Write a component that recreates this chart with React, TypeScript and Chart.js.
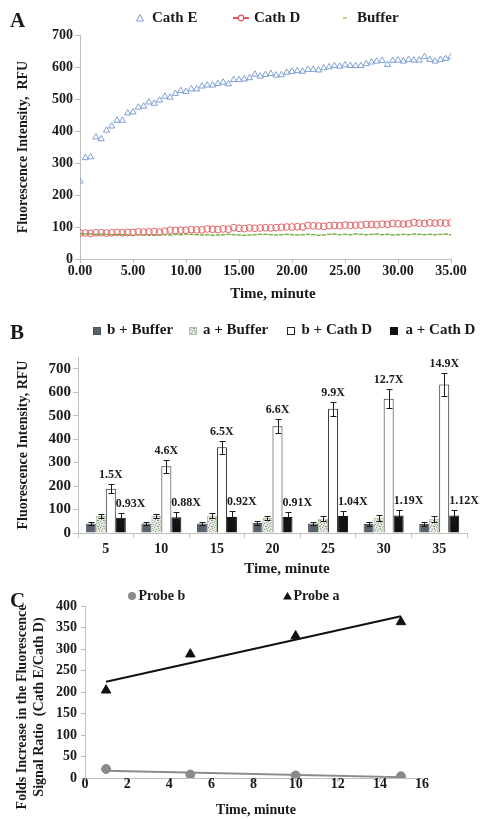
import React, { useEffect, useRef } from 'react';
import { Chart, registerables } from 'chart.js';
Chart.register(...registerables);

const FONT = "'Liberation Serif', 'Times New Roman', serif";
const INK = '#1a1a1a';
const AXIS = '#bfbfbf';

// ---------- Panel A ----------
const timeA = [0, 0.5, 1, 1.5, 2, 2.5, 3, 3.5, 4, 4.5, 5, 5.5, 6, 6.5, 7, 7.5, 8, 8.5, 9, 9.5, 10, 10.5, 11, 11.5, 12, 12.5, 13, 13.5, 14, 14.5, 15, 15.5, 16, 16.5, 17, 17.5, 18, 18.5, 19, 19.5, 20, 20.5, 21, 21.5, 22, 22.5, 23, 23.5, 24, 24.5, 25, 25.5, 26, 26.5, 27, 27.5, 28, 28.5, 29, 29.5, 30, 30.5, 31, 31.5, 32, 32.5, 33, 33.5, 34, 34.5, 35];
const cathE = [
  243, 316, 319, 381, 375, 402, 415, 433, 433, 456,
  459, 474, 477, 490, 486, 496, 508, 505, 517, 526,
  523, 531, 531, 540, 543, 543, 548, 552, 547, 560,
  560, 562, 566, 577, 571, 576, 579, 574, 575, 583,
  586, 588, 586, 592, 592, 590, 597, 600, 604, 602,
  606, 604, 604, 604, 610, 615, 618, 620, 607, 620,
  621, 618, 623, 621, 621, 632, 623, 618, 623, 626,
  632];
const cathD = [
  81, 81, 80, 82, 82, 81, 82, 83, 82, 83,
  83, 85, 84, 85, 86, 84, 87, 90, 89, 90,
  90, 92, 91, 91, 94, 93, 92, 94, 93, 98,
  96, 95, 97, 96, 97, 98, 97, 98, 99, 100,
  100, 101, 100, 105, 104, 103, 102, 104, 105, 104,
  106, 105, 106, 106, 108, 108, 107, 109, 108, 111,
  110, 109, 110, 114, 112, 111, 113, 112, 113, 112,
  113];
const bufferA = [
  79, 78, 78, 77, 78, 77, 76, 77, 76, 75,
  74, 76, 75, 75, 74, 75, 76, 75, 77, 76,
  78, 77, 76, 75, 76, 74, 75, 76, 77, 76,
  75, 74, 75, 76, 77, 77, 76, 75, 76, 77,
  76, 75, 76, 77, 76, 74, 75, 77, 78, 76,
  77, 76, 78, 77, 76, 77, 78, 76, 77, 75,
  76, 77, 76, 78, 77, 76, 77, 76, 77, 78,
  76];
const seriesA = ['Cath E', 'Cath D', 'Buffer'];
const xTitle = 'Time, minute';

// ---------- Panel B ----------
const catsB = ['5', '10', '15', '20', '25', '30', '35'];
const yTicksB = [0, 100, 200, 300, 400, 500, 600, 700];
const seriesB = ['b + Buffer', 'a + Buffer', 'b + Cath D', 'a + Cath D'];
const bBuffer = [40, 41, 40, 43, 40, 38, 38];
const bBufferErr = [6, 7, 6, 8, 7, 7, 8];
const aBuffer = [72, 72, 74, 64, 61, 65, 61];
const aBufferErr = [9, 10, 11, 10, 10, 12, 12];
const bCathD = [189, 284, 365, 455, 529, 572, 633];
const bCathDErr = [20, 28, 27, 29, 31, 41, 48];
const aCathD = [65, 67, 68, 68, 72, 75, 75];
const aCathDErr = [22, 22, 24, 20, 22, 22, 22];
const foldsB = ['1.5X', '4.6X', '6.5X', '6.6X', '9.9X', '12.7X', '14.9X'];
const foldsA = ['0.93X', '0.88X', '0.92X', '0.91X', '1.04X', '1.19X', '1.12X'];

// ---------- Panel C ----------
const seriesC = ['Probe b', 'Probe a'];
const timeC = [1, 5, 10, 15];
const probeB = [21, 8, 6, 4];
const probeA = [204, 288, 330, 363];
const trendX = [1, 15];
const trendA = [224, 376];
const trendB = [17, 2];
const titleC = ['Folds Increase in the Fluorescence', 'Signal Ratio  (Cath E/Cath D)'];

const boldFont = (size: number) => ({ family: FONT, size, weight: 'bold' as const });

type LegendItem = { ds: number; kind: 'icon' | 'box' | 'circle' | 'triangle'; cx: number; tx: number; icon?: HTMLCanvasElement; size?: number };

// Legend drawn from the datasets (labels and colours) at fixed spots.
function makeLegend(items: LegendItem[], fs: number, y: number) {
  return {
    id: 'fixedLegend',
    afterDraw(chart: any) {
      const ctx = chart.ctx as CanvasRenderingContext2D;
      ctx.save();
      items.forEach((it) => {
        const ds = chart.data.datasets[it.ds];
        if (it.kind === 'icon' && it.icon) {
          ctx.drawImage(it.icon, Math.round(it.cx - it.icon.width / 2), Math.round(y - it.icon.height / 2));
        } else if (it.kind === 'box') {
          const s = it.size || 7;
          const x0 = Math.round(it.cx - s / 2) + 0.5;
          const y0 = Math.round(y - s / 2) + 0.5;
          ctx.fillStyle = ds.backgroundColor;
          ctx.fillRect(x0, y0, s, s);
          ctx.strokeStyle = ds.borderColor;
          ctx.lineWidth = 1;
          ctx.strokeRect(x0, y0, s, s);
        } else if (it.kind === 'circle') {
          const r = (it.size || 8) / 2;
          ctx.fillStyle = ds.backgroundColor;
          ctx.beginPath(); ctx.arc(it.cx, y, r, 0, Math.PI * 2); ctx.fill();
        } else if (it.kind === 'triangle') {
          const s = it.size || 9;
          ctx.fillStyle = ds.backgroundColor;
          ctx.beginPath();
          ctx.moveTo(it.cx, y - s * 0.45);
          ctx.lineTo(it.cx + s / 2, y + s * 0.4);
          ctx.lineTo(it.cx - s / 2, y + s * 0.4);
          ctx.closePath(); ctx.fill();
        }
        ctx.font = `bold ${fs}px ${FONT}`;
        ctx.fillStyle = INK;
        ctx.textAlign = 'left';
        ctx.textBaseline = 'middle';
        ctx.fillText(ds.label, it.tx, y);
      });
      ctx.restore();
    },
  };
}

// Axis titles drawn at fixed spots (rotation in radians).
type TitleSpec = { text: string; x: number; y: number; rot: number; fs: number };
function makeTitles(specs: TitleSpec[]) {
  return {
    id: 'fixedTitles',
    afterDraw(chart: any) {
      const ctx = chart.ctx as CanvasRenderingContext2D;
      ctx.save();
      ctx.fillStyle = INK;
      ctx.textAlign = 'center';
      ctx.textBaseline = 'middle';
      specs.forEach((s) => {
        ctx.save();
        ctx.font = `bold ${s.fs}px ${FONT}`;
        ctx.translate(s.x, s.y);
        ctx.rotate(s.rot);
        ctx.fillText(s.text, 0, 0);
        ctx.restore();
      });
      ctx.restore();
    },
  };
}

const barExtras = {
  id: 'barExtras',
  afterDatasetsDraw(chart: any) {
    const { ctx } = chart;
    const ys = chart.scales.y;
    chart.data.datasets.forEach((ds: any, i: number) => {
      const meta = chart.getDatasetMeta(i);
      meta.data.forEach((bar: any, j: number) => {
        const v = ds.data[j];
        const e = ds.errors[j];
        const top = Math.round(ys.getPixelForValue(v + e)) + 0.5;
        const bot = Math.round(ys.getPixelForValue(v - e)) + 0.5;
        const x = Math.round(bar.x) + 0.5;
        ctx.save();
        ctx.strokeStyle = INK;
        ctx.lineWidth = 1;
        ctx.beginPath();
        ctx.moveTo(x, top); ctx.lineTo(x, bot);
        ctx.moveTo(x - 3, top); ctx.lineTo(x + 3, top);
        ctx.moveTo(x - 3, bot); ctx.lineTo(x + 3, bot);
        ctx.stroke();
        if (ds.folds) {
          ctx.font = `bold 12px ${FONT}`;
          ctx.fillStyle = INK;
          ctx.textBaseline = 'bottom';
          if (ds.foldAlign === 'left') {
            ctx.textAlign = 'left';
            ctx.fillText(ds.folds[j], bar.x - bar.width / 2, top - 4);
          } else {
            ctx.textAlign = 'center';
            ctx.fillText(ds.folds[j], bar.x, top - 4);
          }
        }
        ctx.restore();
      });
    });
  },
};

function makeIcon(w: number, h: number, draw: (g: CanvasRenderingContext2D) => void) {
  const c = document.createElement('canvas');
  c.width = w; c.height = h;
  const g = c.getContext('2d')!;
  draw(g);
  return c;
}

const UP = -Math.PI / 2;

export default function App() {
  const refA = useRef<HTMLCanvasElement>(null);
  const refB = useRef<HTMLCanvasElement>(null);
  const refC = useRef<HTMLCanvasElement>(null);

  useEffect(() => {
    Chart.defaults.font.family = FONT;
    Chart.defaults.color = INK;

    // ---------- Panel A ----------
    const iconE = makeIcon(10, 10, (g) => {
      g.strokeStyle = '#7f9fd4'; g.lineWidth = 1;
      g.beginPath(); g.moveTo(5, 1.5); g.lineTo(8.5, 8); g.lineTo(1.5, 8); g.closePath(); g.stroke();
    });
    const iconD = makeIcon(16, 8, (g) => {
      g.strokeStyle = '#e05555'; g.lineWidth = 2;
      g.beginPath(); g.moveTo(0, 4); g.lineTo(16, 4); g.stroke();
      g.fillStyle = '#fff'; g.lineWidth = 1.2;
      g.beginPath(); g.arc(8, 4, 2.8, 0, Math.PI * 2); g.fill(); g.stroke();
    });
    const iconBuf = makeIcon(6, 4, (g) => {
      g.strokeStyle = '#d2ad6a'; g.lineWidth = 1.5;
      g.beginPath(); g.moveTo(1, 2); g.lineTo(5, 2); g.stroke();
    });

    const legendA = makeLegend([
      { ds: 0, kind: 'icon', icon: iconE, cx: 140, tx: 152 },
      { ds: 1, kind: 'icon', icon: iconD, cx: 240.5, tx: 254 },
      { ds: 2, kind: 'icon', icon: iconBuf, cx: 345, tx: 357 },
    ], 15, 18);
    const titlesA = makeTitles([{ text: xTitle, x: 273, y: 294, rot: 0, fs: 15 }]);

    const chartA = new Chart(refA.current!, {
      type: 'scatter',
      data: {
        datasets: [
          { label: seriesA[0], data: timeA.map((x, i) => ({ x, y: cathE[i] })), pointStyle: 'triangle', pointRadius: 3.6, borderWidth: 1, borderColor: '#7f9fd4', backgroundColor: 'rgba(255,255,255,0)' },
          { label: seriesA[1], data: timeA.map((x, i) => ({ x, y: cathD[i] })), pointStyle: 'circle', pointRadius: 3.4, borderWidth: 1, borderColor: '#e06464', backgroundColor: 'rgba(255,255,255,0)' },
          { label: seriesA[2], data: timeA.map((x, i) => ({ x, y: bufferA[i] })), pointStyle: 'line', pointRadius: 2.2, borderWidth: 1.5, borderColor: '#78b446', backgroundColor: '#78b446' },
        ],
      },
      options: {
        responsive: false,
        animation: false,
        devicePixelRatio: 1,
        events: [],
        layout: { padding: { left: 0, right: 36, top: 35, bottom: 0 } },
        plugins: { tooltip: { enabled: false }, legend: { display: false } },
        scales: {
          x: {
            type: 'linear', min: 0, max: 35,
            ticks: { stepSize: 5, autoSkip: false, maxRotation: 0, padding: 0, font: boldFont(14), color: INK, callback: (v: any) => Number(v).toFixed(2) },
            grid: { drawOnChartArea: false, drawTicks: true, tickLength: 4, color: AXIS },
            border: { color: AXIS },
            title: { display: false },
            afterFit: (s: any) => { s.height = 48; },
          },
          y: {
            min: 0, max: 700,
            ticks: { stepSize: 100, autoSkip: false, padding: 2, font: boldFont(14), color: INK },
            grid: { drawOnChartArea: false, drawTicks: true, tickLength: 5, color: AXIS },
            border: { color: AXIS },
            title: { display: true, text: 'Fluorescence Intensity,  RFU', font: boldFont(14), color: INK, padding: { top: 15, bottom: 0 } },
            afterFit: (s: any) => { s.width = 80; },
          },
        },
      } as any,
      plugins: [legendA, titlesA],
    });

    // ---------- Panel B ----------
    const ctxB = refB.current!.getContext('2d')!;
    const speck = makeIcon(6, 6, (g) => {
      g.fillStyle = '#dfe3dc'; g.fillRect(0, 0, 6, 6);
      g.fillStyle = '#8d978b';
      g.fillRect(0, 0, 1, 1); g.fillRect(3, 1, 1, 1); g.fillRect(1, 3, 2, 1); g.fillRect(4, 4, 1, 1); g.fillRect(5, 2, 1, 1); g.fillRect(2, 5, 1, 1);
      g.fillStyle = '#ffffff';
      g.fillRect(1, 1, 1, 1); g.fillRect(4, 2, 1, 1); g.fillRect(0, 4, 1, 1); g.fillRect(3, 4, 1, 1);
    });
    const pattern = ctxB.createPattern(speck, 'repeat');

    const legendB = makeLegend([
      { ds: 0, kind: 'box', cx: 96.5, tx: 107 },
      { ds: 1, kind: 'box', cx: 192.5, tx: 203 },
      { ds: 2, kind: 'box', cx: 290.5, tx: 301.5 },
      { ds: 3, kind: 'box', cx: 393.5, tx: 405.5 },
    ], 15, 23);
    const titlesB = makeTitles([{ text: xTitle, x: 287, y: 262, rot: 0, fs: 15 }]);

    const barCommon = { barPercentage: 1, categoryPercentage: 0.72, borderWidth: 1 };
    const chartB = new Chart(refB.current!, {
      type: 'bar',
      data: {
        labels: catsB,
        datasets: [
          { ...barCommon, label: seriesB[0], data: bBuffer, errors: bBufferErr, backgroundColor: '#59616b', borderColor: '#4b525a' },
          { ...barCommon, label: seriesB[1], data: aBuffer, errors: aBufferErr, backgroundColor: pattern, borderColor: '#a7c598' },
          { ...barCommon, label: seriesB[2], data: bCathD, errors: bCathDErr, folds: foldsB, foldAlign: 'center', backgroundColor: '#ffffff', borderColor: '#222222' },
          { ...barCommon, label: seriesB[3], data: aCathD, errors: aCathDErr, folds: foldsA, foldAlign: 'left', backgroundColor: '#111111', borderColor: '#111111' },
        ] as any,
      },
      options: {
        responsive: false,
        animation: false,
        devicePixelRatio: 1,
        events: [],
        layout: { padding: { left: 0, right: 20, top: 50, bottom: 0 } },
        plugins: { tooltip: { enabled: false }, legend: { display: false } },
        scales: {
          x: {
            ticks: { autoSkip: false, maxRotation: 0, padding: 3, font: boldFont(14), color: INK },
            grid: { offset: true, drawOnChartArea: false, drawTicks: true, tickLength: 5, color: AXIS },
            border: { color: AXIS },
            title: { display: false },
            afterFit: (s: any) => { s.height = 47; },
          },
          y: {
            min: 0, max: 750,
            ticks: { autoSkip: false, padding: 2, font: boldFont(15), color: INK },
            afterBuildTicks: (s: any) => { s.ticks = yTicksB.map((value) => ({ value })); },
            grid: { drawOnChartArea: false, drawTicks: true, tickLength: 5, color: AXIS },
            border: { color: AXIS },
            title: { display: true, text: 'Fluorescence Intensity, RFU', font: boldFont(14), color: INK, padding: { top: 15, bottom: 0 } },
            afterFit: (s: any) => { s.width = 78; },
          },
        },
      } as any,
      plugins: [legendB, barExtras, titlesB],
    });

    // ---------- Panel C ----------
    const legendC = makeLegend([
      { ds: 0, kind: 'circle', cx: 132, tx: 138.5, size: 8 },
      { ds: 1, kind: 'triangle', cx: 287.5, tx: 293.5, size: 9 },
    ], 14, 16);
    const titlesC = makeTitles([
      { text: titleC[0], x: 22, y: 127, rot: UP, fs: 14 },
      { text: titleC[1], x: 39.5, y: 127, rot: UP, fs: 14 },
      { text: xTitle, x: 256, y: 230, rot: 0, fs: 14 },
    ]);

    const chartC = new Chart(refC.current!, {
      type: 'scatter',
      data: {
        datasets: [
          { label: seriesC[0], data: timeC.map((x, i) => ({ x, y: probeB[i] })), pointStyle: 'circle', pointRadius: 4.5, borderWidth: 1, borderColor: '#8a8a8a', backgroundColor: '#8a8a8a' },
          { label: seriesC[1], data: timeC.map((x, i) => ({ x, y: probeA[i] })), pointStyle: 'triangle', pointRadius: 5.5, borderWidth: 1, borderColor: '#111111', backgroundColor: '#111111' },
          { label: 'trend b', data: trendX.map((x, i) => ({ x, y: trendB[i] })), showLine: true, pointRadius: 0, borderWidth: 2, borderColor: '#8a8a8a' },
          { label: 'trend a', data: trendX.map((x, i) => ({ x, y: trendA[i] })), showLine: true, pointRadius: 0, borderWidth: 2, borderColor: '#111111' },
        ],
      },
      options: {
        responsive: false,
        animation: false,
        devicePixelRatio: 1,
        events: [],
        layout: { padding: { left: 0, right: 65, top: 26, bottom: 0 } },
        plugins: { tooltip: { enabled: false }, legend: { display: false } },
        scales: {
          x: {
            type: 'linear', min: 0, max: 16,
            ticks: { stepSize: 2, autoSkip: false, maxRotation: 0, padding: -6, font: boldFont(14), color: INK },
            grid: { drawOnChartArea: false, drawTicks: true, tickLength: 4, color: AXIS },
            border: { color: AXIS },
            title: { display: false },
            afterFit: (s: any) => { s.height = 41; },
          },
          y: {
            min: 0, max: 400,
            ticks: { stepSize: 50, autoSkip: false, padding: 4, font: boldFont(14), color: INK },
            grid: { drawOnChartArea: false, drawTicks: true, tickLength: 4, color: AXIS },
            border: { color: AXIS },
            title: { display: false },
            afterFit: (s: any) => { s.width = 85; },
          },
        },
      } as any,
      plugins: [legendC, titlesC],
    });

    return () => {
      chartA.destroy();
      chartB.destroy();
      chartC.destroy();
    };
  }, []);

  const panelLabel = (text: string, top: number) => (
    <div style={{ position: 'absolute', left: 10, top, font: `bold 21px ${FONT}`, lineHeight: '21px', color: INK }}>{text}</div>
  );

  return (
    <div style={{ position: 'absolute', left: 0, top: 0, width: 487, height: 819, background: '#ffffff', overflow: 'hidden' }}>
      <canvas ref={refA} width={487} height={307} style={{ position: 'absolute', left: 0, top: 0 }} />
      <canvas ref={refB} width={487} height={273} style={{ position: 'absolute', left: 0, top: 307 }} />
      <canvas ref={refC} width={487} height={239} style={{ position: 'absolute', left: 0, top: 580 }} />
      {panelLabel('A', 10)}
      {panelLabel('B', 322)}
      {panelLabel('C', 590)}
    </div>
  );
}
